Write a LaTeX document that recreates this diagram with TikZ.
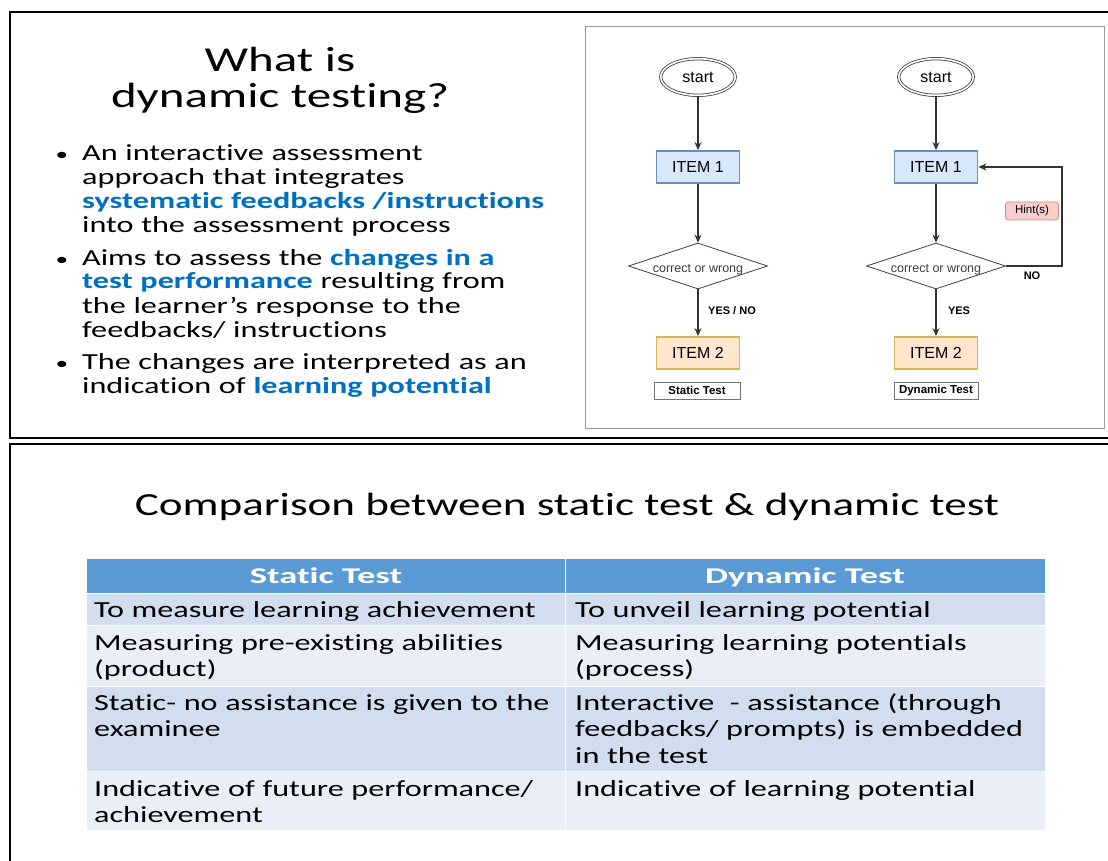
\documentclass[tikz,border=0pt]{standalone}
\usepackage{fontspec}
\setmainfont{Carlito}[FakeStretch=1.4, Ligatures=NoCommon]
\newfontfamily\headfont{Carlito}[FakeStretch=1.62, Ligatures=NoCommon]
\newfontfamily\chartfont{Liberation Sans}
\usetikzlibrary{shapes.geometric,arrows.meta}
\definecolor{tblue}{HTML}{0070C0}
\definecolor{thead}{HTML}{5B9BD5}
\definecolor{tdark}{HTML}{D2DEEF}
\definecolor{tlight}{HTML}{EAEFF7}
\definecolor{ibfill}{HTML}{DAE8FC}
\definecolor{ibdraw}{HTML}{6C8EBF}
\definecolor{iofill}{HTML}{FFE6CC}
\definecolor{iodraw}{HTML}{D6B656}
\definecolor{hfill}{HTML}{F8CECC}
\definecolor{hdraw}{HTML}{D08A88}
\newcommand\fsz[2]{\fontsize{#1}{#2}\selectfont}
\begin{document}
\begin{tikzpicture}[x=1pt,y=-1pt,
  frame/.style={line width=2.2pt, draw=black},
  startnode/.style={ellipse, draw=black!75, double=white, double distance=1.6pt, line width=0.8pt, minimum width=74.6pt, minimum height=36.6pt, inner sep=0pt, font=\chartfont\fsz{16}{18}},
  itemblue/.style={rectangle, draw=ibdraw, fill=ibfill, line width=1.8pt, minimum width=83pt, minimum height=32pt, inner sep=0pt, font=\chartfont\fsz{16}{18}},
  itemorange/.style={itemblue, draw=iodraw, fill=iofill},
  decision/.style={diamond, draw=black!75, line width=0.8pt, aspect=3, minimum width=139pt, minimum height=46pt, inner sep=0pt, font=\chartfont\fsz{12.5}{14}, text=black!75},
  caption/.style={rectangle, draw=black!55, line width=1pt, minimum width=86pt, minimum height=17pt, inner sep=0pt, font=\chartfont\bfseries\fsz{11.5}{13}},
  hintbox/.style={rectangle, rounded corners=3pt, draw=hdraw, fill=hfill, line width=0.8pt, minimum width=53pt, minimum height=18pt, inner sep=0pt, font=\chartfont\fsz{11.5}{13}},
  flowlab/.style={font=\chartfont\bfseries\fsz{11}{13}, inner sep=0pt},
  flow/.style={draw=black!80, line width=1.2pt, -{Stealth[length=8pt,width=7pt]}},
  bullet/.style={anchor=base, inner sep=0pt, font=\fsz{18}{20}},
  para/.style={anchor=base west, inner sep=0pt, text width=480pt, align=left, font=\fsz{23}{24}},
  cell/.style={anchor=base west, inner sep=0pt, text width=600pt, align=left, font=\fsz{23}{26.5}},
  headtext/.style={anchor=base, inner sep=0pt, text=white, font=\headfont\bfseries\fsz{22.5}{26.5}},
  ]
\useasboundingbox[fill=white] (0,0) rectangle (1108,861);
\draw[frame] (1112,12) -- (10,12) -- (10,438) -- (1112,438);
\draw[frame] (1112,444) -- (10,444) -- (10,866);
\node[anchor=base, inner sep=0pt, text width=400pt, align=center, font=\fsz{35}{36}] (tt) at (280,72) {What is\\dynamic testing?};
\node[bullet] (b0) at (62,161) {•};
\node[para] (p0) at (82,161) {An interactive assessment\\approach that integrates\\{\bfseries\color{tblue}systematic feedbacks /instructions}\\into the assessment process};
\node[bullet] (b1) at (62,265) {•};
\node[para] (p1) at (82,265) {Aims to assess the {\bfseries\color{tblue}changes in a}\\{\bfseries\color{tblue}test performance} resulting from\\the learner’s response to the\\feedbacks/ instructions};
\node[bullet] (b2) at (62,369) {•};
\node[para] (p2) at (82,369) {The changes are interpreted as an\\indication of {\bfseries\color{tblue}learning potential}};
\draw[draw=black!40, line width=1pt] (585,27) rectangle (1104,428);
\node[startnode] (s0) at (698,77) {start};
\node[itemblue] (s1) at (698,167) {ITEM 1};
\node[decision] (s2) at (698,266) {\raisebox{-3pt}[9pt][3pt]{correct or wrong}};
\node[itemorange] (s3) at (698,353) {ITEM 2};
\node[caption] (s4) at (697,390.5) {Static Test};
\draw[flow] (s0) -- (s1);
\draw[flow] (s1) -- (s2);
\draw[flow] (s2) -- (s3);
\node[flowlab] (s5) at (732,311) {YES / NO};
\node[startnode] (d0) at (936,77) {start};
\node[itemblue] (d1) at (936,167) {ITEM 1};
\node[decision] (d2) at (936,266) {\raisebox{-3pt}[9pt][3pt]{correct or wrong}};
\node[itemorange] (d3) at (936,353) {ITEM 2};
\node[caption, minimum width=84pt] (d4) at (936,390.5) {Dynamic Test};
\coordinate (c0) at (1062,266);
\draw[flow] (d0) -- (d1);
\draw[flow] (d1) -- (d2);
\draw[flow] (d2) -- (d3);
\draw[flow] (d2.east) -- (c0) |- (d1.east);
\node[hintbox] (h0) at (1032,211) {Hint(s)};
\node[flowlab] (d5) at (959,311) {YES};
\node[flowlab] (d6) at (1032,276) {NO};
\node[anchor=base, inner sep=0pt, font=\fsz{32.2}{34}] (ct) at (567,515) {Comparison between static test \& dynamic test};
\filldraw[fill=thead, draw=white, line width=1pt] (86,558) rectangle (565,593);
\filldraw[fill=thead, draw=white, line width=1pt] (565,558) rectangle (1045,593);
\filldraw[fill=tdark, draw=white, line width=1pt] (86,593) rectangle (565,625);
\filldraw[fill=tdark, draw=white, line width=1pt] (565,593) rectangle (1045,625);
\filldraw[fill=tlight, draw=white, line width=1pt] (86,625) rectangle (565,686);
\filldraw[fill=tlight, draw=white, line width=1pt] (565,625) rectangle (1045,686);
\filldraw[fill=tdark, draw=white, line width=1pt] (86,686) rectangle (565,771);
\filldraw[fill=tdark, draw=white, line width=1pt] (565,686) rectangle (1045,771);
\filldraw[fill=tlight, draw=white, line width=1pt] (86,771) rectangle (565,830);
\filldraw[fill=tlight, draw=white, line width=1pt] (565,771) rectangle (1045,830);
\node[headtext] (t0) at (326,583) {Static Test};
\node[headtext] (t1) at (805,583) {Dynamic Test};
\node[cell] (t2) at (94,617) {To measure learning achievement};
\node[cell] (t3) at (575,617) {To unveil learning potential};
\node[cell] (t4) at (94,650) {Measuring pre-existing abilities\\(product)};
\node[cell] (t5) at (575,650) {Measuring learning potentials\\(process)};
\node[cell] (t6) at (94,710) {Static- no assistance is given to the\\examinee};
\node[cell] (t7) at (575,710) {Interactive\ \ - assistance (through\\feedbacks/ prompts) is embedded\\in the test};
\node[cell] (t8) at (94,796) {Indicative of future performance/\\achievement};
\node[cell] (t9) at (575,796) {Indicative of learning potential};
\end{tikzpicture}
\end{document}
